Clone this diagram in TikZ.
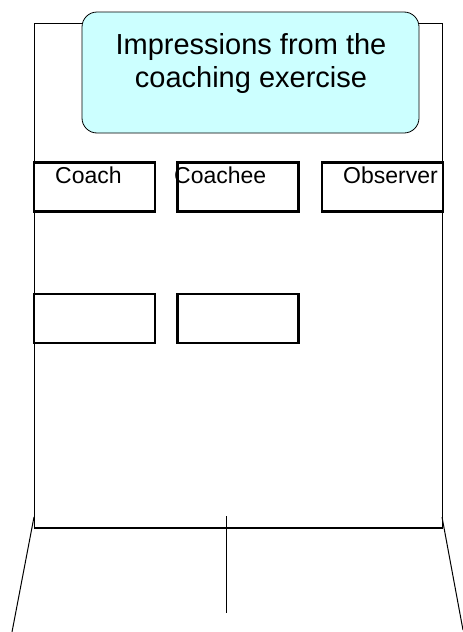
\documentclass[tikz,border=0pt]{standalone}
\usepackage{fontspec}
\setmainfont{Liberation Sans}
\usetikzlibrary{positioning}
\definecolor{titlecyan}{RGB}{204,255,255}

\begin{document}
\begin{tikzpicture}[x=1pt, y=-1pt,
  rolebox/.style={draw, line width=2.8pt, minimum width=121pt, minimum height=49pt, inner sep=0pt},
  rolelabel/.style={font=\fontsize{23}{26}\selectfont, anchor=base west, inner sep=0pt}]
\useasboundingbox (0,0) rectangle (463,632);
% frame
\draw[line width=0.8pt] (34,23) rectangle (442,528);
\draw[line width=1.4pt] (34,528) -- (442,528);
\draw[line width=1pt] (34,517) -- (12,632);
\draw[line width=1pt] (442,517) -- (463,630);
\draw[line width=1pt] (226,516) -- (226,613);
% title
\node[draw, line width=0.8pt, rounded corners=15pt, fill=titlecyan, minimum width=337pt, minimum height=121pt] (title) at (250.5,72.5) {};
\node[anchor=north, align=center, inner sep=0pt, font=\fontsize{29}{33}\selectfont] (titletext) at (251,33) {Impressions from the\\coaching exercise};
% roles
\node[rolebox] (coach) at (94.5,187) {};
\node[rolebox] (coachee) at (238,187) {};
\node[rolebox] (observer) at (382.5,187) {};
\node[rolelabel] (coachlabel) at (55,183) {Coach};
\node[rolelabel] (coacheelabel) at (174,183) {Coachee};
\node[rolelabel] (observerlabel) at (343,183) {Observer};
% empty row
\node[rolebox] (coachnotes) at (94.5,318.5) {};
\node[rolebox] (coacheenotes) at (238,318.5) {};
\end{tikzpicture}
\end{document}
